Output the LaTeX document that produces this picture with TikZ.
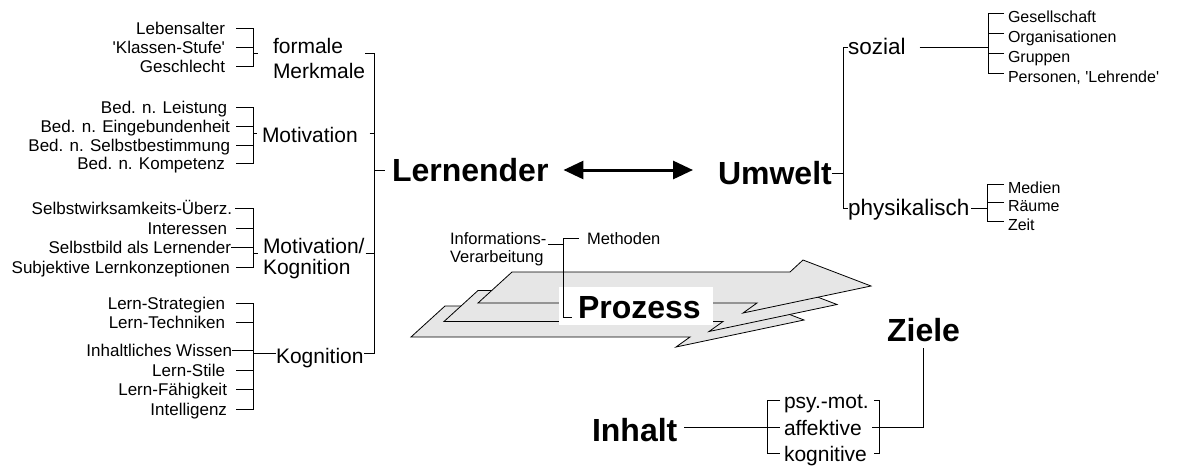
\documentclass[tikz,border=0pt]{standalone}
\usepackage{fontspec}
\setmainfont{Liberation Sans}[Ligatures=TeXOff]
\usetikzlibrary{arrows.meta}
\definecolor{arrowfill}{RGB}{230,230,230}
\begin{document}
\begin{tikzpicture}[x=1pt,y=-1pt,
  every node/.style={inner sep=0pt, outer sep=0pt},
  conn/.style={line width=0.9pt},
  itm/.style={anchor=east, font=\fontsize{17}{19}\selectfont, text height=12pt, text depth=0pt},
  grp/.style={anchor=base west, font=\fontsize{21}{24}\selectfont},
  big/.style={font=\bfseries\fontsize{32}{36}\selectfont, text height=23pt, text depth=0pt},
  ritm/.style={anchor=west, font=\fontsize{16}{18}\selectfont, text height=18pt, text depth=0pt},
  sub/.style={anchor=west, font=\fontsize{22.5}{24}\selectfont, text height=14pt, text depth=0pt},
  aim/.style={anchor=west, font=\fontsize{21}{24}\selectfont, text height=16pt, text depth=0pt},
  small/.style={anchor=base west, font=\fontsize{16.5}{18}\selectfont},
  flow/.style={draw=black, line width=0.8pt, fill=arrowfill, line join=miter},
  dbl/.style={line width=3pt, {Triangle[length=20pt,width=18pt]}-{Triangle[length=20pt,width=18pt]}},
]
\useasboundingbox (0,0) rectangle (1177,466);

% ---------- bracket columns ----------
\coordinate (s1) at (236,0);   % start of item strokes
\coordinate (b1) at (253,0);   % item brackets
\coordinate (m)  at (374,0);   % main bracket of "Lernender"

% ---------- formale Merkmale ----------
\node[itm] (leb) at (225,28) {Lebensalter};
\node[itm] (kls) at (225,47) {'Klassen-Stufe'};
\node[itm] (ges) at (225,66) {Geschlecht};
\draw[conn] (leb.east -| s1) -- (leb.east -| b1) -- (ges.east -| b1) -- (ges.east -| s1);
\draw[conn] (kls.east -| s1) -- (kls.east -| b1);
\node[grp] (fo1) at (273,53.3) {formale};
\node[grp] (fo2) at (273,78.3) {Merkmale};
\draw[conn] (b1 |- fo1.base) -- ++(5,0);

% ---------- Motivation ----------
\node[itm] (bl) at (227,107) {Bed. n. Leistung};
\node[itm] (be) at (230,126) {Bed. n. Eingebundenheit};
\node[itm] (bs) at (230,145) {Bed. n. Selbstbestimmung};
\node[itm] (bk) at (225,163) {Bed. n. Kompetenz};
\draw[conn] (bl.east -| s1) -- (bl.east -| b1) -- (bk.east -| b1) -- (bk.east -| s1);
\draw[conn] (be.east -| s1) -- (be.east -| b1);
\draw[conn] (bs.east -| s1) -- (bs.east -| b1);
\node[grp] (mot) at (262,142) {Motivation};
\coordinate (mot-in) at (253,133);
\draw[conn] (mot-in) -- ++(4,0);
\draw[conn] (mot-in -| mot.east) ++(12,0) -- (mot-in -| m);

% ---------- Motivation / Kognition ----------
\node[itm] (sw) at (232,208) {Selbstwirksamkeits-Überz.};
\node[itm] (ir) at (227,228) {Interessen};
\node[itm] (sb) at (231,247) {Selbstbild als Lernender};
\node[itm] (sl) at (230,267) {Subjektive Lernkonzeptionen};
\draw[conn] (sw.east) ++(3,0) -- (sw.east -| b1) -- (sl.east -| b1) -- (sl.east -| s1);
\draw[conn] (ir.east -| s1) -- (ir.east -| b1);
\draw[conn] (sb.east) -- (sb.east -| b1);
\node[grp] (mk1) at (263,253.3) {Motivation/};
\node[grp] (mk2) at (263,274.5) {Kognition};
\draw[conn] (b1 |- mk1.base) -- ++(5,0);
\draw[conn] (mk1.base east) ++(1,0) -- (m |- mk1.base);

% ---------- Kognition ----------
\node[itm] (ls) at (225,303) {Lern-Strategien};
\node[itm] (lt) at (225,322) {Lern-Techniken};
\node[itm] (iw) at (232,350) {Inhaltliches Wissen};
\node[itm] (lst) at (225,370) {Lern-Stile};
\node[itm] (lf) at (227,389) {Lern-Fähigkeit};
\node[itm] (ig) at (227,409) {Intelligenz};
\draw[conn] (ls.east -| s1) -- (ls.east -| b1) -- (ig.east -| b1) -- (ig.east -| s1);
\draw[conn] (lt.east -| s1) -- (lt.east -| b1);
\draw[conn] (iw.east) -- (iw.east -| b1);
\draw[conn] (lst.east -| s1) -- (lst.east -| b1);
\draw[conn] (lf.east -| s1) -- (lf.east -| b1);
\node[grp] (kog) at (276,363) {Kognition};
\coordinate (kog-in) at (253,353.3);
\draw[conn] (kog-in) -- (kog-in -| kog.west);

% ---------- main bracket and Lernender ----------
\draw[conn] (fo2.east |- fo1.base) -- (m |- fo1.base) -- (m |- kog-in) -- (kog.east |- kog-in);
\node[big, anchor=west] (lern) at (392,170) {Lernender};
\draw[conn] (m |- lern.west) -- ([xshift=-7pt]lern.west);

% ---------- Umwelt ----------
\node[big, anchor=west] (umw) at (718,173) {Umwelt};
\draw[dbl, shorten <=15pt, shorten >=25pt] (lern.east) -- (lern.east -| umw.west);
\coordinate (u) at (843,0);
\draw[conn] (umw.east) -- (u |- umw.east);
\node[sub] (soz) at (848,47) {sozial};
\node[sub] (phy) at (848,208) {physikalisch};
\draw[conn] (soz.west) -- (u |- soz.west) -- (u |- phy.west) -- (phy.west);

\coordinate (r1) at (988,0);
\coordinate (e1) at (1004,0);
\node[ritm] (gs) at (1008,13) {Gesellschaft};
\node[ritm] (or) at (1008,33) {Organisationen};
\node[ritm] (gr) at (1008,53) {Gruppen};
\node[ritm] (pe) at (1008,73) {Personen, 'Lehrende'};
\draw[conn] (soz.east) ++(14,0) -- (r1 |- soz.east);
\draw[conn] (gs.west -| e1) -- (gs.west -| r1) -- (pe.west -| r1) -- (pe.west -| e1);
\draw[conn] (or.west -| e1) -- (or.west -| r1);
\draw[conn] (gr.west -| e1) -- (gr.west -| r1);

\coordinate (r2) at (987,0);
\node[ritm] (me) at (1008,184) {Medien};
\node[ritm] (ra) at (1008,202) {Räume};
\node[ritm] (ze) at (1008,221) {Zeit};
\draw[conn] (phy.east) ++(2,0) -- (r2 |- phy.east);
\draw[conn] (me.west -| e1) -- (me.west -| r2) -- (ze.west -| r2) -- (ze.west -| e1);
\draw[conn] (ra.west -| e1) -- (ra.west -| r2);

% ---------- Prozess: three stacked flat arrows ----------
\foreach \ox/\oy in {411/337, 444/321.5, 478/303}
  \draw[flow] (\ox,\oy) -- ++(34,-31) -- ++(278,0) -- ++(13,-12) -- ++(68,26)
              -- ++(-128,27) -- ++(14,-10) -- cycle;
\fill[white] (559,287) rectangle (713,325);
\node[big, anchor=west] (proz) at (578,307) {Prozess};

\node[small] (inf1) at (450,244) {Informations-};
\node[small] (inf2) at (450,262) {Verarbeitung};
\node[small] (meth) at (587,244) {Methoden};
\coordinate (pv) at (563,0);
\coordinate (mtop) at (579,238);
\coordinate (pbot) at (572,317);
\draw[conn] (inf1.base east) ++(2,0) -- (pv |- inf1.base);
\draw[conn] (mtop) -- (mtop -| pv) -- (pbot -| pv) -- (pbot);

% ---------- Ziele and Inhalt ----------
\node[big] (ziel) at (923.5,330) {Ziele};
\node[aim] (psy) at (784,400) {psy.-mot.};
\node[aim] (aff) at (784,427) {affektive};
\node[aim] (kgn) at (784,453.5) {kognitive};
\coordinate (zr) at (879,0);
\coordinate (zl) at (767,0);
\coordinate (ze1) at (780,0);
\draw[conn] ([yshift=-6.5pt]ziel.south) -- (ziel.south |- aff.west) -- ([xshift=10pt]aff.east);
\draw[conn] ([xshift=-5pt]zr |- psy.west) -- (zr |- psy.west) -- (zr |- kgn.west) -- ([xshift=-5pt]zr |- kgn.west);
\draw[conn] (psy.west -| ze1) -- (psy.west -| zl) -- (kgn.west -| zl) -- (kgn.west -| ze1);
\draw[conn] (aff.west -| zl) -- (aff.west -| ze1);
\node[big, anchor=west] (inh) at (592,430) {Inhalt};
\draw[conn] ([xshift=7pt]inh.east |- aff.west) -- (aff.west -| zl);
\end{tikzpicture}
\end{document}
